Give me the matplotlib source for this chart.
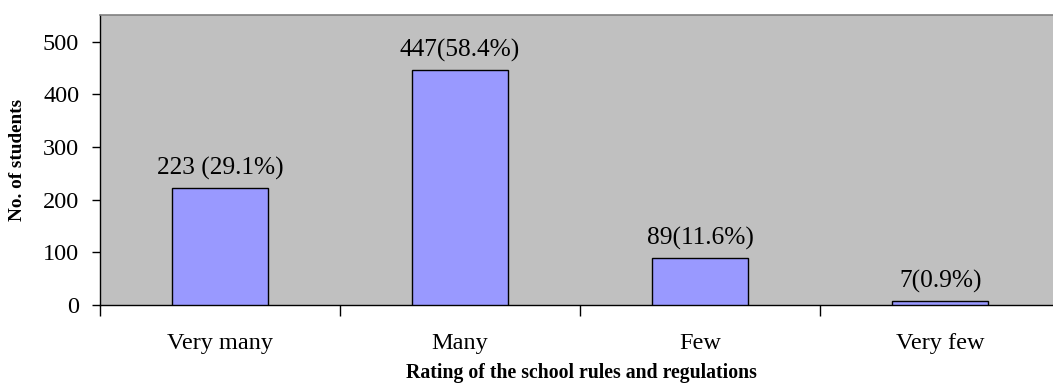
import matplotlib
matplotlib.use("Agg")
import matplotlib.pyplot as plt
import numpy as np

categories = ["Very many", "Many", "Few", "Very few"]
counts = [223, 447, 89, 7]
bar_labels = ["223 (29.1%)", "447(58.4%)", "89(11.6%)", "7(0.9%)"]
yticks = [0, 100, 200, 300, 400, 500]

plt.rcParams['font.family'] = ['Liberation Serif', 'DejaVu Serif']

W, H = 1053, 387
fig = plt.figure(figsize=(W / 100, H / 100), dpi=100)
left, right, top, bottom = 100, 1053, 15, 305
ax = fig.add_axes([left / W, 1 - bottom / H, (right - left) / W, (bottom - top) / H])
ax.set_facecolor("#C0C0C0")

x = np.arange(len(categories))
ax.bar(x, counts, width=0.40, color="#9999FF", edgecolor="black", linewidth=1.0, zorder=3)
for xi, v, lab in zip(x, counts, bar_labels):
    ax.text(xi, v + 15, lab, ha="center", va="bottom", fontsize=18.3, zorder=4)

ax.set_xlim(-0.5, 3.47)
ax.set_ylim(0, 551)
ax.set_yticks(yticks)
ax.tick_params(axis="y", labelsize=17.5, length=6, width=1, direction="out", pad=9)

ax.set_xticks(x)
ax.set_xticklabels(categories)
ax.tick_params(axis="x", which="major", length=0, labelsize=17.5, pad=20.5)
ax.set_xticks([-0.5, 0.5, 1.5, 2.5], minor=True)
ax.tick_params(axis="x", which="minor", length=8, width=1, direction="out")

for s in ["left", "bottom"]:
    ax.spines[s].set_color("black")
    ax.spines[s].set_linewidth(1.0)
ax.spines["top"].set_color("#808080")
ax.spines["top"].set_linewidth(1.2)
ax.spines["right"].set_visible(False)

fig.text(18 / W, 1 - 160 / H, "No. of students", rotation=90, ha="center", va="center",
         fontsize=13.8, fontweight="bold")
fig.text(581 / W, 4 / H, "Rating of the school rules and regulations",
         ha="center", va="bottom", fontsize=14.2, fontweight="bold")

fig.savefig("out.png", dpi=100)
